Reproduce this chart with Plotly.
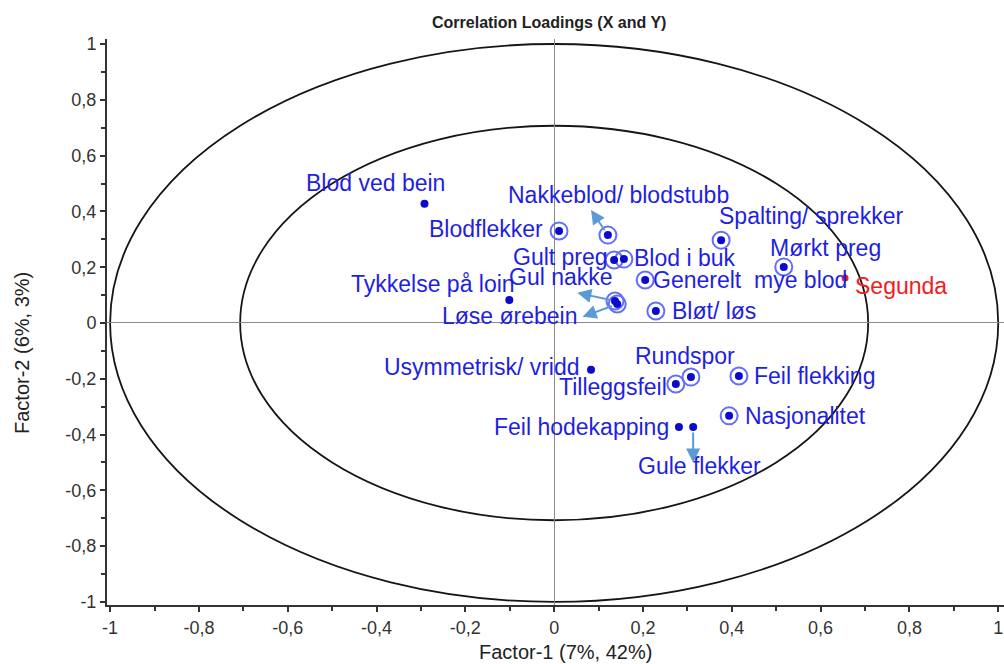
import math
import plotly.graph_objects as go

# ---------------- data ----------------
X_VARS = ["Blod ved bein", "Blodflekker", "Nakkeblod/ blodstubb", "Gult preg",
          "Blod i buk", "Gul nakke", "Løse ørebein", "Generelt  mye blod",
          "Bløt/ løs", "Spalting/ sprekker", "Mørkt preg", "Tykkelse på loin",
          "Usymmetrisk/ vridd", "Rundspor", "Tilleggsfeil", "Feil flekking",
          "Nasjonalitet", "Feil hodekapping", "Gule flekker"]
X_F1 = [-0.292, 0.011, 0.121, 0.135, 0.157, 0.137, 0.142, 0.205, 0.229, 0.376,
        0.517, -0.101, 0.083, 0.308, 0.274, 0.416, 0.394, 0.281, 0.313]
X_F2 = [0.427, 0.330, 0.315, 0.226, 0.229, 0.079, 0.068, 0.154, 0.043, 0.297,
        0.201, 0.082, -0.168, -0.194, -0.219, -0.190, -0.333, -0.373, -0.373]
X_MARKED = [False, True, True, True, True, True, True, True, True, True,
            True, False, False, True, True, True, True, False, False]

Y_VARS = ["Segunda"]
Y_F1 = [0.655]
Y_F2 = [0.161]

ARROW_VARS = ["Nakkeblod/ blodstubb", "Gul nakke", "Løse ørebein", "Gule flekker"]
ARROW_END_F1 = [0.083, 0.052, 0.064, 0.313]
ARROW_END_F2 = [0.405, 0.108, 0.022, -0.500]

TICK_VALS = [-1, -0.8, -0.6, -0.4, -0.2, 0, 0.2, 0.4, 0.6, 0.8, 1]
TICK_TEXT = ["-1", "-0,8", "-0,6", "-0,4", "-0,2", "0", "0,2", "0,4", "0,6", "0,8", "1"]

R_OUTER = 1.0
R_INNER = math.sqrt(0.5)

# ---------------- styles ----------------
BLUE = "#1f1fe0"
DOT = "#0b0bcc"
RED = "#ee2020"
ARROW = "#5b9bd5"
FONT = "Liberation Sans, Arial, sans-serif"
NARROW = "Liberation Sans Narrow, Liberation Sans, Arial, sans-serif"

# label placement: (xanchor, xshift, yshift) in pixels
LABEL_POS = {
    "Blod ved bein": ("right", 22, 21),
    "Blodflekker": ("right", -14, 2),
    "Nakkeblod/ blodstubb": ("center", 11, 40),
    "Gult preg": ("right", -4, 3),
    "Blod i buk": ("left", 8, 1),
    "Gul nakke": ("right", 0, 24),
    "Løse ørebein": ("right", -37, -12),
    "Generelt  mye blod": ("left", 6, 0),
    "Bløt/ løs": ("left", 14, 0),
    "Spalting/ sprekker": ("left", -4, 24),
    "Mørkt preg": ("left", -16, 19),
    "Tykkelse på loin": ("right", 8, 16),
    "Usymmetrisk/ vridd": ("right", -9, 3),
    "Rundspor": ("center", -6, 21),
    "Tilleggsfeil": ("right", -7, -3),
    "Feil flekking": ("left", 13, 0),
    "Nasjonalitet": ("left", 14, 0),
    "Feil hodekapping": ("right", -8, 0),
    "Gule flekker": ("center", 6, -39),
    "Segunda": ("left", 8, -8),
}

fig = go.Figure()

# ellipses
for r in (R_OUTER, R_INNER):
    fig.add_shape(type="circle", xref="x", yref="y", x0=-r, y0=-r, x1=r, y1=r,
                  line=dict(color="#151515", width=1.8), layer="below")

# rings around marked variables
mx = [x for x, m in zip(X_F1, X_MARKED) if m]
my = [y for y, m in zip(X_F2, X_MARKED) if m]
fig.add_trace(go.Scatter(x=mx, y=my, mode="markers", hoverinfo="skip",
                         marker=dict(symbol="circle-open", size=17,
                                     line=dict(color="#151515", width=2))))
# X dots
fig.add_trace(go.Scatter(x=X_F1, y=X_F2, mode="markers", text=X_VARS,
                         marker=dict(color=DOT, size=8)))
# Y dots
fig.add_trace(go.Scatter(x=Y_F1, y=Y_F2, mode="markers", text=Y_VARS,
                         marker=dict(color=RED, size=7)))

annotations = []
# arrows
for name, ex, ey in zip(ARROW_VARS, ARROW_END_F1, ARROW_END_F2):
    i = X_VARS.index(name)
    annotations.append(dict(x=ex, y=ey, ax=X_F1[i], ay=X_F2[i], xref="x", yref="y",
                            axref="x", ayref="y", text="", showarrow=True,
                            arrowhead=2, arrowsize=1.4, arrowwidth=2,
                            arrowcolor=ARROW, standoff=0, startstandoff=4))

def add_label(name, x, y, color):
    xa, xs, ys = LABEL_POS[name]
    annotations.append(dict(x=x, y=y, xref="x", yref="y", text=name, showarrow=False,
                            xanchor=xa, yanchor="middle", xshift=xs, yshift=ys,
                            font=dict(family=FONT, size=23, color=color)))

for n, x, y in zip(X_VARS, X_F1, X_F2):
    add_label(n, x, y, BLUE)
for n, x, y in zip(Y_VARS, Y_F1, Y_F2):
    add_label(n, x, y, RED)

# titles (positions given in page pixels, converted below)
L, R, T, B = 107, 0, 39, 59
W, H = 1004, 664
pw, ph = W - L - R, H - T - B

def page_note(px, py, text, size, family, angle=0):
    annotations.append(dict(x=(px - L) / pw, y=((H - py) - B) / ph, xref="paper", yref="paper",
                            xanchor="center", yanchor="middle", text=text, textangle=angle,
                            showarrow=False, font=dict(family=family, size=size, color="#222")))

page_note(549, 22, "<b>Correlation Loadings (X and Y)</b>", 16, NARROW)
page_note(565, 652, "Factor-1 (7%, 42%)", 20, FONT)
page_note(22, 353, "Factor-2 (6%, 3%)", 20, FONT, -90)

axis_common = dict(
    showgrid=False, zeroline=True, zerolinecolor="#8a8a8a", zerolinewidth=1,
    showline=True, linecolor="#333333", linewidth=2,
    ticks="outside", ticklen=5, tickwidth=1.5, tickcolor="#333333",
    tickvals=TICK_VALS, ticktext=TICK_TEXT,
    tickfont=dict(family=FONT, size=18, color="#333333"),
    minor=dict(dtick=0.1, tick0=0, ticks="outside", ticklen=4, tickwidth=1.5, tickcolor="#333333"),
)

fig.update_layout(
    width=W, height=H,
    margin=dict(l=L, r=R, t=T, b=B, pad=0),
    paper_bgcolor="white", plot_bgcolor="white",
    showlegend=False,
    annotations=annotations,
    xaxis=dict(range=[-1.007, 1.013], **axis_common),
    yaxis=dict(range=[-1.011, 1.018], **axis_common),
)

fig.write_html("out.html")
